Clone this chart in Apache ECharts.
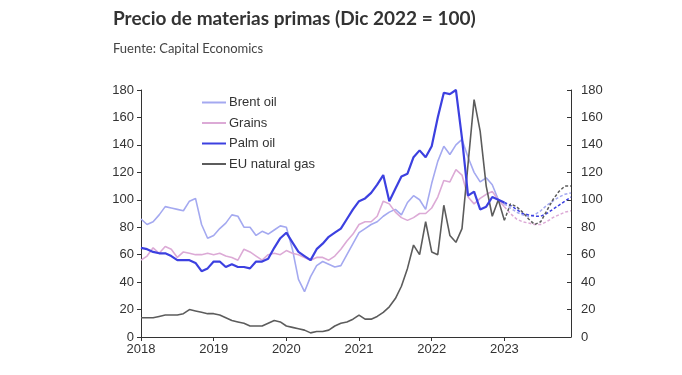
<!DOCTYPE html>
<html>
<head>
<meta charset="utf-8">
<script src="https://cdn.jsdelivr.net/npm/echarts@6/dist/echarts.min.js"></script>
<style>
  html, body { margin: 0; padding: 0; background: #fff; }
  #chart { width: 682px; height: 375px; }
</style>
</head>
<body>
<div id="chart"></div>
<script>
// meses ene 2018 - dic 2023
var months = [];
for (var y = 2018; y <= 2023; y++) {
    for (var m = 1; m <= 12; m++) months.push(y + '-' + (m < 10 ? '0' + m : m));
}
var yTicks = [0, 20, 40, 60, 80, 100, 120, 140, 160, 180];

// datos observados (ene 2018 - ene 2023)
var brentOil = [86, 82, 84, 89, 95, 94, 93, 92, 99, 101, 82, 72, 74, 79, 83, 89, 88, 80, 80, 74,
    77, 75, 78, 81, 80, 64, 42, 33, 44, 52, 55, 53, 51, 52, 60, 68, 76, 79, 82, 84,
    88, 91, 93, 89, 98, 103, 100, 93, 112, 128, 139, 133, 140, 144, 131, 120, 113, 116, 111, 100, 97];
var grains = [56, 59, 65, 61, 66, 64, 58, 62, 61, 60, 60, 61, 60, 61, 59, 58, 56, 64, 62, 59,
    56, 60, 61, 60, 63, 61, 60, 58, 56, 58, 58, 56, 59, 64, 70, 75, 82, 84, 84, 88,
    99, 97, 91, 87, 85, 87, 90, 90, 94, 102, 114, 113, 122, 118, 102, 97, 101, 104, 106, 100, 95];
var palmOil = [65, 64, 62, 61, 61, 59, 56, 56, 56, 54, 48, 50, 55, 55, 51, 53, 51, 51, 50, 55,
    55, 57, 65, 72, 76, 69, 62, 59, 56, 64, 68, 73, 76, 79, 86, 93, 99, 101, 105, 111,
    118, 99, 108, 117, 119, 131, 136, 131, 139, 160, 178, 177, 180, 145, 103, 106, 93, 95, 102, 100, 98];
var euGas = [14, 14, 14, 15, 16, 16, 16, 17, 20, 19, 18, 17, 17, 16, 14, 12, 11, 10, 8, 8,
    8, 10, 12, 11, 8, 7, 6, 5, 3, 4, 4, 5, 8, 10, 11, 13, 16, 13, 13, 15,
    18, 22, 28, 37, 50, 67, 60, 84, 62, 60, 96, 74, 69, 79, 126, 173, 150, 110, 88, 100, 85];

// previsiones (ene 2023 - dic 2023)
var brentFc = [97, 94, 91, 89, 88, 89, 92, 96, 99, 102, 104, 105];
var grainsFc = [95, 90, 86, 84, 83, 82, 82, 84, 87, 89, 91, 92];
var palmFc = [98, 96, 93, 90, 89, 88, 88, 90, 93, 96, 99, 102];
var gasFc = [85, 97, 95, 91, 86, 82, 84, 92, 100, 106, 110, 110];

var names = ['Brent oil', 'Grains', 'Palm oil', 'EU natural gas'];
var colors = ['#a4a9f0', '#dcaad6', '#3c40e0', '#5c5c5c'];
var widths = [1.6, 1.6, 2.2, 1.6];

function forecast(arr) {
    var out = [];
    for (var i = 0; i < months.length - arr.length; i++) out.push(null);
    return out.concat(arr);
}

var actual = [brentOil, grains, palmOil, euGas];
var fc = [brentFc, grainsFc, palmFc, gasFc];
var series = [];
for (var k = 0; k < 4; k++) {
    series.push({
        name: names[k], type: 'line', data: actual[k], symbol: 'none',
        lineStyle: { color: colors[k], width: widths[k] }, itemStyle: { color: colors[k] },
        z: k === 2 ? 4 : 3
    });
}
for (var k = 0; k < 4; k++) {
    series.push({
        name: names[k] + ' f', type: 'line', data: forecast(fc[k]), symbol: 'none',
        lineStyle: { color: colors[k], width: 1.5, type: [3, 2] }, itemStyle: { color: colors[k] }
    });
}

var axisFont = { fontFamily: 'Liberation Sans, Arial', fontSize: 13, color: '#333' };
var yAxisBase = {
    type: 'value', min: 0, max: 180, interval: 20,
    splitLine: { show: false },
    axisLine: { show: true, lineStyle: { color: '#333', width: 1 } },
    axisTick: { show: true, length: 4, lineStyle: { color: '#333' } }
};

var option = {
    backgroundColor: '#fff',
    animation: false,
    title: {
        text: 'Precio de materias primas (Dic 2022 = 100)',
        subtext: 'Fuente: Capital Economics',
        left: 108, top: 4, itemGap: 14,
        textStyle: { fontFamily: 'Lato', fontWeight: 'bold', fontSize: 19, color: '#333' },
        subtextStyle: { fontFamily: 'Lato', fontSize: 13, color: '#444' }
    },
    legend: {
        data: names.map(function (n, i) {
            return { name: n, itemStyle: { color: colors[i] } };
        }),
        icon: 'rect', orient: 'vertical', left: 197, top: 91,
        itemWidth: 24, itemHeight: 2, itemGap: 7.5,
        textStyle: { fontFamily: 'Liberation Sans, Arial', fontSize: 13, color: '#333', padding: [0, 0, 0, -2] }
    },
    grid: { left: 141, right: 111, top: 90, bottom: 38 },
    xAxis: {
        type: 'category', data: months, boundaryGap: false,
        axisLine: { lineStyle: { color: '#333', width: 1 } },
        axisTick: { show: true, length: 4, interval: function (i) { return i % 12 === 0; }, lineStyle: { color: '#333' } },
        axisLabel: Object.assign({
            interval: function (i) { return i % 12 === 0; },
            formatter: function (v) { return v.slice(0, 4); }, margin: 6
        }, axisFont)
    },
    yAxis: [
        Object.assign({}, yAxisBase, { position: 'left', axisLabel: Object.assign({ margin: 7 }, axisFont) }),
        Object.assign({}, yAxisBase, {
            position: 'right',
            axisTick: { show: true, inside: true, length: 4, lineStyle: { color: '#333' } },
            axisLabel: Object.assign({ margin: 10 }, axisFont)
        })
    ],
    series: series
};

var chart = echarts.init(document.getElementById('chart'));
chart.setOption(option);
</script>
</body>
</html>
